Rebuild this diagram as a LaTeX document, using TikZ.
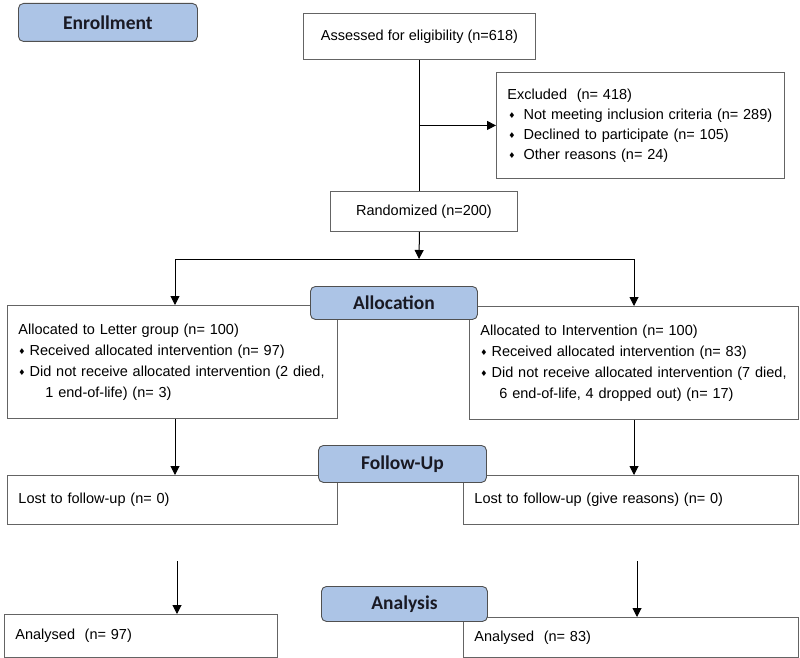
\documentclass[tikz,border=0pt]{standalone}
\usepackage{fontspec}
\setmainfont{Liberation Sans}
\newfontfamily\labfont{Carlito}
\newfontfamily\dvfont{DejaVu Sans}
\usetikzlibrary{arrows.meta}
\definecolor{boxline}{RGB}{100,100,100}
\definecolor{labfill}{RGB}{172,196,230}
\definecolor{labtext}{RGB}{25,25,35}
\newcommand{\dmd}{{\dvfont\fontsize{8}{8}\selectfont\raisebox{1pt}{♦}}\hspace{4pt}}
\newcommand{\dmdx}{\hspace{1pt}{\dvfont\fontsize{8}{8}\selectfont\raisebox{1pt}{♦}}\hspace{8pt}}
\tikzset{
  box/.style={draw=boxline, line width=0.9pt, fill=white, rectangle, anchor=north west,
    inner xsep=11pt, inner ysep=0pt, align=left, font=\fontsize{14.5}{21}\selectfont},
  cbox/.style={draw=boxline, line width=0.9pt, fill=white, rectangle, anchor=north west,
    inner sep=0pt, align=center, font=\fontsize{14.5}{21}\selectfont},
  stage/.style={draw=boxline!80!black, line width=0.9pt, fill=labfill, rounded corners=5pt,
    anchor=north west, inner sep=0pt, text=labtext, font=\labfont\bfseries\fontsize{19.5}{22}\selectfont},
  arr/.style={line width=1pt, -{Triangle[length=9pt,width=9pt]}},
  ln/.style={line width=1pt}
}
\begin{document}
\begin{tikzpicture}[x=1pt,y=-1pt]
\useasboundingbox (0,0) rectangle (800,658);
% boxes
\node[cbox, minimum width=232, minimum height=46] (assess) at (303,13) {Assessed for eligibility (n=618)};
\node[box, minimum width=288, minimum height=106, text width=266, font=\fontsize{14.5}{20}\selectfont] (excl) at (496,72)
 {Excluded\ \ (n= 418)\\
  \mbox{\dmdx Not meeting inclusion criteria (n= 289)}\\
  \dmdx Declined to participate (n= 105)\\
  \dmdx Other reasons (n= 24)};
\node[cbox, minimum width=187, minimum height=40] (rand) at (330,191) {Randomized (n=200)};
\node[box, minimum width=330, minimum height=113, text width=308] (letter) at (7,305)
 {Allocated to Letter group (n= 100)\\
  \dmd Received allocated intervention (n= 97)\\
  \mbox{\dmd Did not receive allocated intervention (2 died,}\\
  \hspace{27pt}1 end-of-life) (n= 3)};
\node[box, minimum width=329, minimum height=113, text width=307] (interv) at (469,306)
 {Allocated to Intervention (n= 100)\\
  \dmd Received allocated intervention (n= 83)\\
  \mbox{\dmd Did not receive allocated intervention (7 died,}\\
  \hspace{19pt}6 end-of-life, 4 dropped out) (n= 17)};
\node[box, minimum width=330, minimum height=49, text width=308] (lostL) at (7,475)
 {Lost to follow-up (n= 0)};
\node[box, minimum width=335, minimum height=49, text width=313, inner xsep=10pt] (lostR) at (463,475)
 {Lost to follow-up (give reasons) (n= 0)};
\node[box, minimum width=273, minimum height=43, text width=251] (anaL) at (4,614)
 {Analysed\ \ (n= 97)};
\node[box, minimum width=335, minimum height=40, text width=313, inner xsep=10pt] (anaR) at (463,617)
 {Analysed\ \ (n= 83)};
% connectors
\coordinate (split) at (419,259);
\coordinate (sl) at (175,259);
\coordinate (sr) at (634,259);
\draw[ln] (assess.south) -- (assess.south |- rand.north);
\draw[arr] (assess.south |- excl.west) -- (excl.west);
\draw[arr] (assess.south |- rand.south) -- (split);
\draw[ln] (sl) -- (sr);
\draw[arr] (sl) -- (sl |- letter.north);
\draw[arr] (sr) -- (sr |- interv.north);
\draw[arr] (sl |- letter.south) -- (sl |- lostL.north);
\draw[arr] (sr |- interv.south) -- (sr |- lostR.north);
\coordinate (al) at (177,561);
\coordinate (ar) at (637,561);
\draw[arr] (al) -- (al |- anaL.north);
\draw[arr] (ar) -- (ar |- anaR.north);
% stage labels
\node[stage, minimum width=179, minimum height=38] (enr) at (18,3) {Enrollment};
\node[stage, minimum width=167, minimum height=33] (alloc) at (310,286) {Allocation};
\node[stage, minimum width=168, minimum height=37] (fup) at (318,445) {Follow-Up};
\node[stage, minimum width=166, minimum height=35] (anal) at (321,586) {Analysis};
\end{tikzpicture}
\end{document}
